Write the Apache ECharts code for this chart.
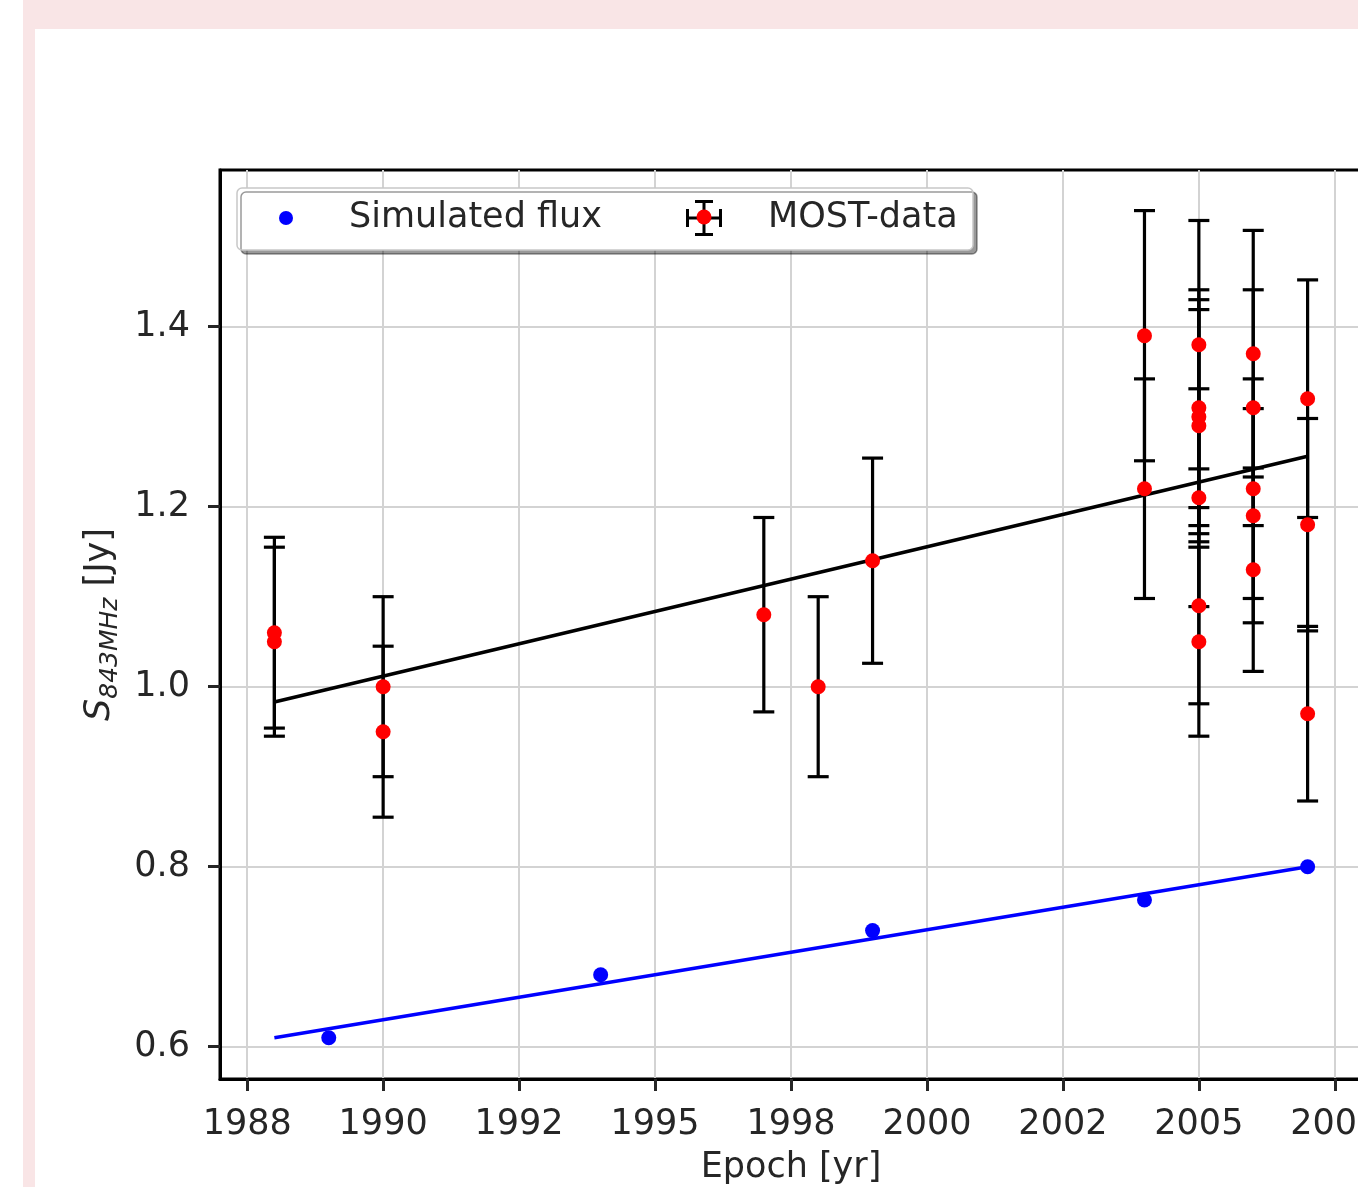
<!DOCTYPE html>
<html><head><meta charset="utf-8">
<script src="https://cdn.jsdelivr.net/npm/echarts@6/dist/echarts.min.js"></script>
<style>
html,body{margin:0;padding:0;overflow:hidden;background:#fff;width:1358px;height:1187px;}
#pink{position:absolute;left:23px;top:0;width:1400px;height:1187px;background:#f9e5e6;}
#white{position:absolute;left:35px;top:29px;width:1400px;height:1200px;background:#fff;}
#chart{position:absolute;left:0;top:0;width:1400px;height:1187px;}
</style></head><body>
<div id="pink"></div><div id="white"></div><div id="chart"></div>
<script>
// ---- data ----
const mostYears = [1988, 1988, 1990, 1990, 1997, 1998, 1999, 2004, 2004,
  2005, 2005, 2005, 2005, 2005, 2005, 2005,
  2006, 2006, 2006, 2006, 2006,
  2007, 2007, 2007];
const mostFlux = [1.06, 1.05, 1.00, 0.95, 1.08, 1.00, 1.14, 1.39, 1.22,
  1.38, 1.31, 1.30, 1.29, 1.21, 1.09, 1.05,
  1.37, 1.31, 1.22, 1.19, 1.13,
  1.32, 1.18, 0.97];
const mostErr = [0.106, 0.105, 0.100, 0.095, 0.108, 0.100, 0.114, 0.139, 0.122,
  0.138, 0.131, 0.130, 0.129, 0.121, 0.109, 0.105,
  0.137, 0.131, 0.122, 0.119, 0.113,
  0.132, 0.118, 0.097];
const simYears = [1989, 1994, 1999, 2004, 2007];
const simFlux = [0.610, 0.680, 0.729, 0.763, 0.800];
const fitYears = [1988, 2007];
const mostFit = [0.983, 1.256];
const simFit = [0.610, 0.800];
const xTickValues = [1987.5, 1990, 1992.5, 1995, 1997.5, 2000, 2002.5, 2005, 2007.5];
const xTickLabels = ['1988', '1990', '1992', '1995', '1998', '2000', '2002', '2005', '2008'];
const yTickValues = [0.6, 0.8, 1.0, 1.2, 1.4];
const yTickLabels = ['0.6', '0.8', '1.0', '1.2', '1.4'];

// ---- chart ----
const FONT = 'DejaVu Sans';
const TXT = '#262626';
const FS = 35;
const chart = echarts.init(document.getElementById('chart'), null, {renderer: 'canvas'});

const errData = mostYears.map((x, i) => [x, mostFlux[i], mostErr[i]]);
const mostData = mostYears.map((x, i) => [x, mostFlux[i]]);
const simData = simYears.map((x, i) => [x, simFlux[i]]);

function lookup(values, labels, v) {
  for (let i = 0; i < values.length; i++) if (Math.abs(values[i] - v) < 1e-6) return labels[i];
  return '';
}

const errIcon = 'path://M16.5 0h3v36h-3zM9 0h18v3h-18zM9 33h18v3h-18zM0 16.5h36v3h-36zM0 9h3v18h-3zM33 9h3v18h-3z';

const option = {
  animation: false,
  grid: {left: 220, top: 170, right: 38, bottom: 108, show: true, borderColor: '#000', borderWidth: 3,
    backgroundColor: 'transparent', outerBoundsMode: 'none'},
  xAxis: {
    type: 'value', min: 1987, max: 2008,
    axisLine: {show: true, onZero: false, lineStyle: {color: '#000', width: 3}},
    axisTick: {show: true, length: 12, lineStyle: {color: TXT, width: 3}, customValues: xTickValues},
    axisLabel: {customValues: xTickValues, formatter: v => lookup(xTickValues, xTickLabels, v),
      fontSize: FS, fontFamily: FONT, color: TXT, margin: 28},
    splitLine: {show: true, lineStyle: {color: '#d3d3d3', width: 2}},
    name: 'Epoch [yr]', nameLocation: 'middle', nameGap: 71,
    nameTextStyle: {fontSize: FS, fontFamily: FONT, color: TXT}
  },
  yAxis: {
    type: 'value', min: 0.5641, max: 1.5741,
    axisLine: {show: true, onZero: false, lineStyle: {color: '#000', width: 3}},
    axisTick: {show: true, length: 12, lineStyle: {color: TXT, width: 3}, customValues: yTickValues},
    axisLabel: {customValues: yTickValues, formatter: v => lookup(yTickValues, yTickLabels, v),
      fontSize: FS, fontFamily: FONT, color: TXT, margin: 30},
    splitLine: {show: true, lineStyle: {color: '#d3d3d3', width: 2}},
    name: '{s|S}{sub|843MHz}{n| [Jy]}', nameLocation: 'middle', nameGap: 80, nameRotate: 90,
    nameTextStyle: {fontSize: FS, fontFamily: FONT, color: TXT,
      rich: {
        s: {fontSize: FS, fontStyle: 'italic', fontFamily: FONT, color: TXT, lineHeight: 48},
        sub: {fontSize: 25, fontStyle: 'italic', fontFamily: FONT, color: TXT, lineHeight: 24, verticalAlign: 'bottom'},
        n: {fontSize: FS, fontFamily: FONT, color: TXT, lineHeight: 48}
      }}
  },
  legend: [
    {data: ['Simulated flux'], left: 279, top: 198, padding: 0, icon: 'circle', itemWidth: 36, itemHeight: 14,
      selectedMode: false,
      textStyle: {fontSize: FS, fontFamily: FONT, color: TXT, lineHeight: 40, padding: [0, 0, 0, 40]}},
    {data: ['MOST-data'], left: 686, top: 198, padding: 0, icon: errIcon, itemWidth: 36, itemHeight: 36,
      selectedMode: false, itemStyle: {color: '#000'},
      textStyle: {fontSize: FS, fontFamily: FONT, color: TXT, lineHeight: 40, padding: [0, 0, 0, 41]}}
  ],
  graphic: [
    {type: 'rect', z: 3, shape: {x: 237, y: 188, width: 736, height: 62, r: 5},
      style: {fill: '#fff', stroke: '#c8c8c8', lineWidth: 1.5, shadowColor: 'rgba(0,0,0,0.4)',
        shadowOffsetX: 4, shadowOffsetY: 4, shadowBlur: 0}},
    {type: 'circle', z: 10, shape: {cx: 704, cy: 217, r: 7.5}, style: {fill: '#ff0000'}}
  ],
  series: [
    {type: 'line', data: fitYears.map((x, i) => [x, simFit[i]]), showSymbol: false, symbol: 'none',
      lineStyle: {color: '#0000ff', width: 3.5}, z: 2, silent: true},
    {type: 'line', data: fitYears.map((x, i) => [x, mostFit[i]]), showSymbol: false, symbol: 'none',
      lineStyle: {color: '#000', width: 3.5}, z: 2, silent: true},
    {name: 'MOST-data', type: 'custom', z: 3, data: errData,
      renderItem: function (params, api) {
        const x = api.value(0), y = api.value(1), e = api.value(2);
        const t = api.coord([x, y + e]), b = api.coord([x, y - e]);
        const hw = 10.5, st = {stroke: '#000', lineWidth: 3.2};
        return {type: 'group', children: [
          {type: 'line', shape: {x1: t[0], y1: t[1], x2: b[0], y2: b[1]}, style: st},
          {type: 'line', shape: {x1: t[0] - hw, y1: t[1], x2: t[0] + hw, y2: t[1]}, style: st},
          {type: 'line', shape: {x1: b[0] - hw, y1: b[1], x2: b[0] + hw, y2: b[1]}, style: st}
        ]};
      }},
    {name: 'MOST-data', type: 'scatter', data: mostData, symbolSize: 15, z: 4,
      itemStyle: {color: '#ff0000', opacity: 1}},
    {name: 'Simulated flux', type: 'scatter', data: simData, symbolSize: 15, z: 4,
      itemStyle: {color: '#0000ff', opacity: 1}}
  ]
};
chart.setOption(option);
</script></body></html>
